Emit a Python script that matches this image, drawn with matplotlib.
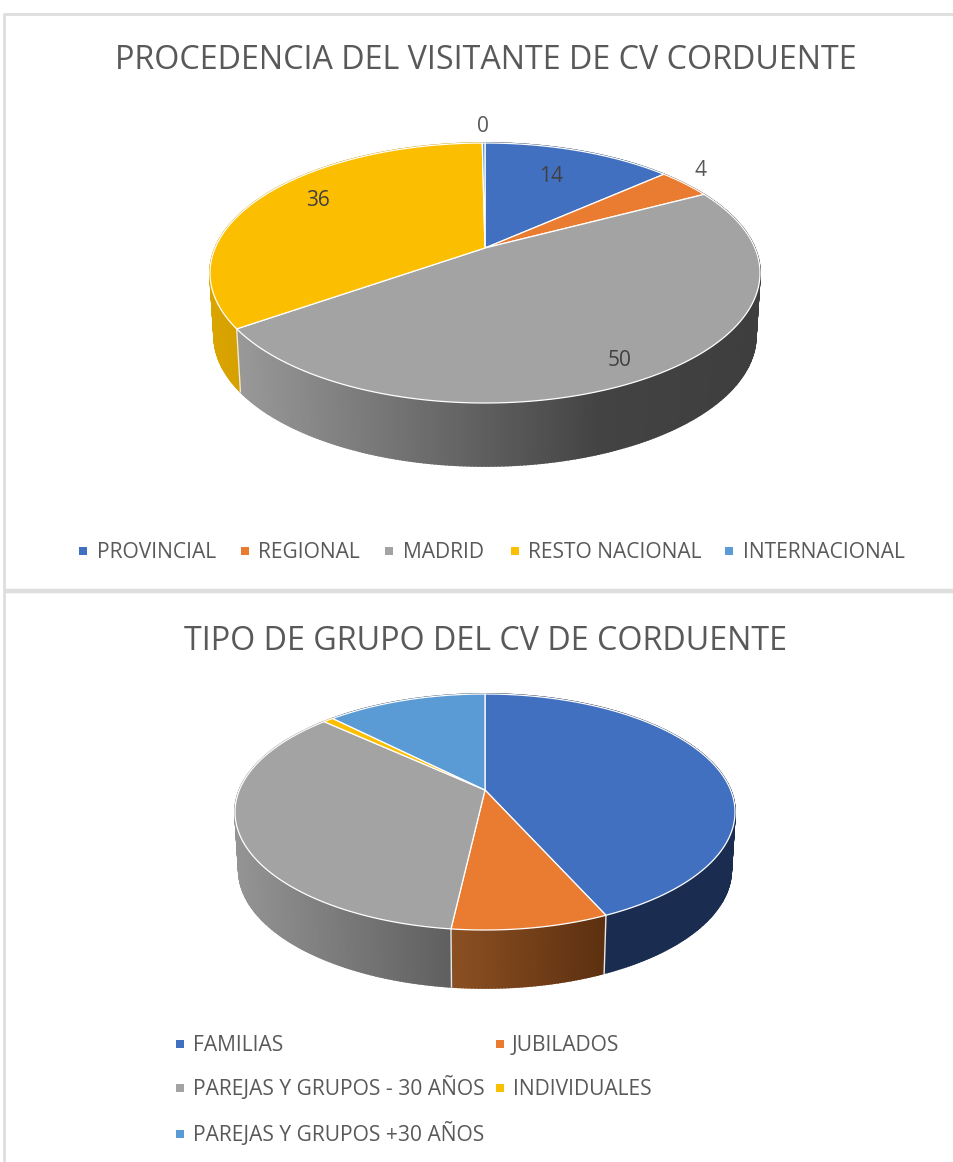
#!/usr/bin/env python3
"""Two 3D-looking pie charts (visitor origin and group type, CV Corduente)."""
import numpy as np
import matplotlib

matplotlib.use("Agg")
import matplotlib.pyplot as plt
from matplotlib.colors import to_rgb

plt.rcParams["font.family"] = ["Open Sans", "DejaVu Sans"]

TITLE_1 = "PROCEDENCIA DEL VISITANTE DE CV CORDUENTE"
LABELS_1 = ["PROVINCIAL", "REGIONAL", "MADRID", "RESTO NACIONAL", "INTERNACIONAL"]
VALUES_1 = [14, 4, 50, 36, 0.2]
SHOWN_1 = ["14", "4", "50", "36", "0"]

TITLE_2 = "TIPO DE GRUPO DEL CV DE CORDUENTE"
LABELS_2 = ["FAMILIAS", "JUBILADOS", "PAREJAS Y GRUPOS - 30 AÑOS", "INDIVIDUALES",
            "PAREJAS Y GRUPOS +30 AÑOS"]
VALUES_2 = [43.3, 8.5, 35, 0.8, 12.4]

COLORS = ["#4270C0", "#EA7C31", "#A3A3A3", "#FCBE00", "#5B9BD5"]
TXT = "#595959"
BORDER = "#DEDEDE"


def project(theta, g):
    # unit circle -> ellipse, apex sits above the ellipse centre (perspective)
    x, y = np.sin(theta), np.cos(theta)
    c = g["apex"] / g["ry"]
    den = 1 + c * y
    px = g["rx"] * np.sqrt(1 - c * c) * x / den
    py = (g["ry"] * y + g["apex"]) / den
    return g["cx"] + px, g["cy"] - py


def shade(x, stops):
    xs = [s[0] for s in stops]
    rgb = np.array([to_rgb(s[1]) for s in stops])
    return tuple(np.interp(x, xs, rgb[:, i]) for i in range(3))


def pie3d(ax, values, g, wall_stops):
    edges = np.cumsum([0] + list(values)) / sum(values) * 2 * np.pi
    # side wall first, the top covers whatever is behind it
    for i in range(len(values)):
        th = np.linspace(edges[i], edges[i + 1], max(3, int((edges[i + 1] - edges[i]) * 90)))
        x, y = project(th, g)
        xb = g["cx"] + (x - g["cx"]) * g["bottom"]
        yb = y + g["depth"]
        for j in range(len(th) - 1):
            col = shade((x[j] + x[j + 1]) / 2, wall_stops[i])
            ax.fill([x[j], x[j + 1], xb[j + 1], xb[j]], [y[j], y[j + 1], yb[j + 1], yb[j]],
                    color=col, lw=1.2, zorder=2)
    for e in edges:
        x, y = project(np.array([e]), g)
        if y[0] > g["cy"] - g["apex"]:
            ax.plot([x[0], g["cx"] + (x[0] - g["cx"]) * g["bottom"]], [y[0], y[0] + g["depth"]],
                    color="#E8E8E8", lw=1, zorder=3)
    # top surface
    apex_x, apex_y = g["cx"], g["cy"] - g["apex"]
    for i, v in enumerate(values):
        th = np.linspace(edges[i], edges[i + 1], max(3, int((edges[i + 1] - edges[i]) * 90)))
        x, y = project(th, g)
        ax.fill(np.r_[apex_x, x], np.r_[apex_y, y], facecolor=COLORS[i],
                edgecolor="white", lw=0.9, zorder=4)


def legend(ax, items):
    for (label, color, mx, tx, y) in items:
        ax.scatter([mx], [y], marker="s", s=26, color=color, lw=0, zorder=5)
        ax.text(tx, y + 7, label, color=TXT, fontsize=15.1, va="baseline", ha="left", zorder=5)


fig = plt.figure(figsize=(9.54, 11.62), dpi=100)
ax = fig.add_axes([0, 0, 1, 1])
ax.set_xlim(0, 954)
ax.set_ylim(1162, 0)
ax.axis("off")

# chart frames
ax.plot([954, 4, 4], [14, 14, 1162], color=BORDER, lw=2.0, solid_capstyle="butt")
ax.plot([4, 954], [591, 591], color=BORDER, lw=3.2, solid_capstyle="butt")

# first pie
g1 = dict(cx=485, cy=273, rx=275, ry=130, apex=25, depth=63, bottom=0.985)
walls_1 = [
    [(0, "#263F6C"), (954, "#263F6C")],
    [(0, "#8A4A1C"), (954, "#8A4A1C")],
    [(240, "#989898"), (600, "#434343"), (760, "#3E3E3E")],
    [(200, "#DDA600"), (250, "#D29F00")],
    [(0, "#35597C"), (954, "#35597C")],
]
pie3d(ax, VALUES_1, g1, walls_1)
ax.text(486, 69, TITLE_1, color=TXT, fontsize=23.2, ha="center", va="baseline")
for s, x, y in zip(SHOWN_1, [551, 701, 620, 318, 483], [176, 170, 361, 200, 126]):
    ax.text(x, y, s, color="#404040" if s != "0" and s != "4" else TXT,
            fontsize=15, ha="center", va="center", zorder=6)
legend(ax, [(LABELS_1[i], COLORS[i], m, t, 551) for i, (m, t) in enumerate(
    [(83, 97), (245, 258), (389, 403), (515, 528), (729, 743)])])

# second pie
g2 = dict(cx=485, cy=812, rx=250, ry=118, apex=22, depth=58, bottom=0.985)
walls_2 = [
    [(600, "#1A2C50"), (740, "#1A2C50")],
    [(450, "#8C5022"), (605, "#5C3010")],
    [(235, "#949494"), (450, "#5F5F5F")],
    [(0, "#B38600"), (954, "#B38600")],
    [(0, "#35597C"), (954, "#35597C")],
]
pie3d(ax, VALUES_2, g2, walls_2)
ax.text(486, 650, TITLE_2, color=TXT, fontsize=23.2, ha="center", va="baseline")
legend(ax, [
    (LABELS_2[0], COLORS[0], 180, 193, 1044),
    (LABELS_2[1], COLORS[1], 500, 512, 1044),
    (LABELS_2[2], COLORS[2], 180, 193, 1088),
    (LABELS_2[3], COLORS[3], 500, 513, 1088),
    (LABELS_2[4], COLORS[4], 180, 193, 1134),
])

fig.savefig("out.png", dpi=100, facecolor="white")
